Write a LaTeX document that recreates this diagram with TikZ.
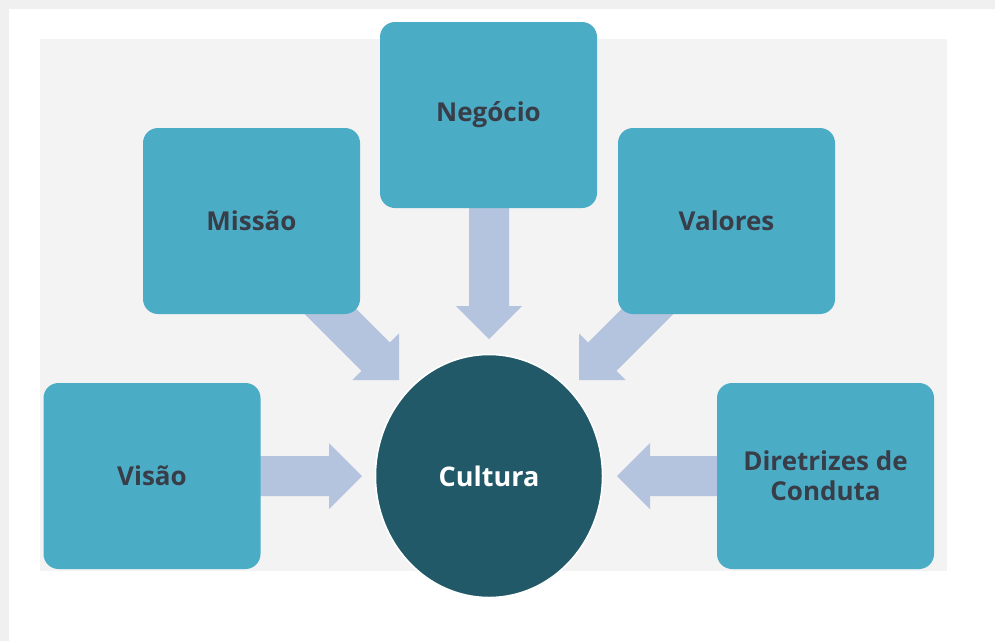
\documentclass[tikz,border=0pt]{standalone}
\usepackage{fontspec}
\setmainfont{Open Sans}
\usetikzlibrary{calc,shapes.geometric}
\definecolor{boxc}{HTML}{4BACC6}
\definecolor{arrc}{HTML}{B4C3DE}
\definecolor{circc}{HTML}{215968}
\definecolor{panelc}{HTML}{F3F3F3}
\definecolor{bandc}{HTML}{F0F0F0}
\definecolor{txtc}{HTML}{383D48}
\pgfdeclarelayer{back}
\pgfdeclarelayer{bg}
\pgfsetlayers{back,bg,main}
\newcommand\blockarrow[2]{%
  \coordinate (hb) at ($(#2)!33pt!(#1)$);
  \fill[arrc] ($(#1)!20pt!90:(#2)$) -- ($(hb)!20pt!-90:(#1)$) -- ($(hb)!33pt!-90:(#1)$)
    -- (#2) -- ($(hb)!33pt!90:(#1)$) -- ($(hb)!20pt!90:(#1)$) -- ($(#1)!20pt!-90:(#2)$) -- cycle;}
\begin{document}
\begin{tikzpicture}[x=1pt,y=-1pt,
  box/.style={fill=boxc, rounded corners=15pt, minimum width=217pt, minimum height=186pt,
    inner sep=0pt, text=txtc, font=\bfseries\fontsize{26}{30}\selectfont, align=center},
  hub/.style={ellipse, fill=circc, draw=white, line width=1.5pt, minimum width=227pt,
    minimum height=243pt, inner sep=0pt, text=white, font=\bfseries\fontsize{27}{30}\selectfont}]
\useasboundingbox (0,0) rectangle (995,641);
\begin{pgfonlayer}{back}
\fill[white] (0,0) rectangle (995,641);
\fill[bandc] (0,0) rectangle (995,9);
\fill[bandc] (0,0) rectangle (9,641);
\fill[panelc] (40,39) rectangle (947,571);
\end{pgfonlayer}

\node[box] (neg) at (488.5,115) {Negócio};
\node[box] (mis) at (251.5,221) {Missão};
\node[box] (val) at (726.5,221) {Valores};
\node[box] (vis) at (152,476) {Visão};
\node[box] (dir) at (825.5,476) {Diretrizes de\\Conduta};
\node[hub] (cul) at (489,476) {Cultura};

\coordinate (sneg) at (489,160);
\coordinate (tneg) at (489,339);
\coordinate (smis) at (280,261);
\coordinate (tmis) at (399,380);
\coordinate (sval) at (698,261);
\coordinate (tval) at (579,380);
\coordinate (svis) at (200,476);
\coordinate (tvis) at (362,476);
\coordinate (sdir) at (780,476);
\coordinate (tdir) at (617,476);

\begin{pgfonlayer}{bg}
\blockarrow{sneg}{tneg}
\blockarrow{smis}{tmis}
\blockarrow{sval}{tval}
\blockarrow{svis}{tvis}
\blockarrow{sdir}{tdir}
\end{pgfonlayer}
\end{tikzpicture}
\end{document}
